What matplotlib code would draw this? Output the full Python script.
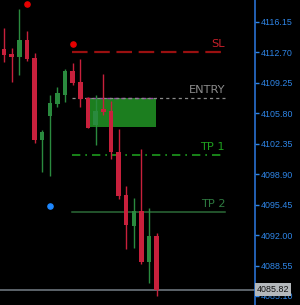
import matplotlib
matplotlib.use("Agg")
import matplotlib.pyplot as plt
from matplotlib.patches import Rectangle

# candles (open, high, low, close)
opens  = [4113.03, 4112.46, 4112.19, 4114.08, 4112.04, 4102.76, 4105.47, 4106.83, 4107.85, 4110.57,
          4109.36, 4107.55, 4104.46, 4106.23, 4106.07, 4101.43, 4096.53, 4093.02, 4094.76, 4088.98, 4091.93]
highs  = [4115.47, 4113.21, 4117.55, 4115.13, 4112.57, 4103.89, 4107.85, 4108.79, 4110.80, 4111.51,
          4111.93, 4107.63, 4107.85, 4110.23, 4107.17, 4103.97, 4097.55, 4096.16, 4101.71, 4095.09, 4092.20]
lows   = [4111.62, 4109.36, 4110.12, 4111.73, 4102.45, 4099.17, 4098.68, 4106.53, 4107.09, 4108.98,
          4106.53, 4104.08, 4102.19, 4105.59, 4100.61, 4096.08, 4090.42, 4090.57, 4088.72, 4086.61, 4085.13]
closes = [4112.38, 4112.15, 4114.08, 4111.96, 4102.76, 4103.70, 4106.98, 4108.04, 4110.57, 4109.18,
          4107.40, 4104.15, 4106.07, 4105.89, 4101.37, 4096.45, 4093.14, 4094.76, 4088.98, 4091.93, 4085.82]

# fractal markers (candle index, price)
up_marks = [(3, 4118.12), (9, 4113.63)]
down_marks = [(6, 4095.29)]

# trade levels
sl_price = 4112.70
entry_price = 4107.48
tp1_price = 4101.06
tp2_price = 4094.64
zone_top = 4107.55
zone_bottom = 4104.23
last_price = 4085.82

tick_prices = [4116.15, 4112.70, 4109.25, 4105.80, 4102.35, 4098.90, 4095.45, 4092.00, 4088.55, 4085.10]

red = "#c8203c"
green = "#2a8a3e"
axis_font = ["Liberation Sans", "DejaVu Sans"]

fig = plt.figure(figsize=(3.0, 3.05), dpi=100, facecolor="black")
ax = fig.add_axes([0, 0, 255 / 300, 1])
ax.set_facecolor("black")

# zone box behind candles
ax.add_patch(Rectangle((10.74, zone_bottom), 19.9 - 10.74, zone_top - zone_bottom,
                       facecolor="#1f8a22", edgecolor="none", alpha=0.92, zorder=1))
ax.plot([10.74, 19.9], [zone_top, zone_top], color="#9a40a8", lw=1, ls=(0, (3, 2)), zorder=2)

# level lines
x0, x1 = 8.9, 28.95
ax.plot([x0, x1], [sl_price, sl_price], color="#9a1010", lw=1.6, ls=(0, (7, 3)), zorder=2)
ax.plot([x0, x1], [entry_price, entry_price], color="#8a8a8a", lw=0.9, ls=(0, (2.5, 2.5)), zorder=2)
ax.plot([x0, x1], [tp1_price, tp1_price], color="#1e9a1e", lw=1.2, ls=(0, (5, 3, 1, 3)), zorder=2)
ax.plot([x0, x1], [tp2_price, tp2_price], color="#2c6a38", lw=1.1, zorder=2)

ax.text(x1, sl_price + 0.35, "SL", color="#c8202a", fontsize=8.2, ha="right", va="bottom")
ax.text(x1, entry_price + 0.35, "ENTRY", color="#8c8c8c", fontsize=8.2, ha="right", va="bottom")
ax.text(x1, tp1_price + 0.35, "TP 1", color="#1ea01e", fontsize=8.2, ha="right", va="bottom")
ax.text(x1, tp2_price + 0.35, "TP 2", color="#2e7a40", fontsize=8.2, ha="right", va="bottom")

# candles
idx = list(range(len(opens)))
cols = [green if c > o else red for o, c in zip(opens, closes)]
ax.vlines(idx, lows, highs, colors=cols, lw=1, zorder=3)
bottoms = [min(o, c) for o, c in zip(opens, closes)]
heights = [max(abs(c - o), 0.25) for o, c in zip(opens, closes)]
ax.bar(idx, heights, bottom=bottoms, width=0.59, color=cols, zorder=4)

# markers
ax.scatter([m[0] for m in up_marks], [m[1] for m in up_marks], s=14, color="#e80000", zorder=5)
ax.scatter([m[0] for m in down_marks], [m[1] for m in down_marks], s=14, color="#1e88ff", zorder=5)

# last price line
ax.axhline(last_price, color="#6c747c", lw=1.2, zorder=2)

ax.set_xlim(-0.524, 32.87)
ax.set_ylim(4084.08, 4118.61)

# right price axis
for s in ["left", "top", "bottom"]:
    ax.spines[s].set_visible(False)
ax.spines["right"].set_color("#2a70d0")
ax.spines["right"].set_linewidth(1.2)
ax.set_xticks([])
ax.yaxis.tick_right()
ax.set_yticks(tick_prices)
ax.set_yticklabels([f"{p:.2f}" for p in tick_prices])
ax.tick_params(axis="y", colors="#2f86e8", length=3, width=1, pad=1, labelsize=6.4)
for lbl in ax.get_yticklabels():
    lbl.set_family(axis_font)

ax.text(1.006, last_price, f"{last_price:.2f}", transform=ax.get_yaxis_transform(),
        color="#101010", fontsize=6.4, family=axis_font,
        ha="left", va="center", zorder=10, clip_on=False,
        bbox=dict(boxstyle="square,pad=0.2", facecolor="#b4b8bc", edgecolor="none"))

fig.savefig("out.png", dpi=100, facecolor="black")
